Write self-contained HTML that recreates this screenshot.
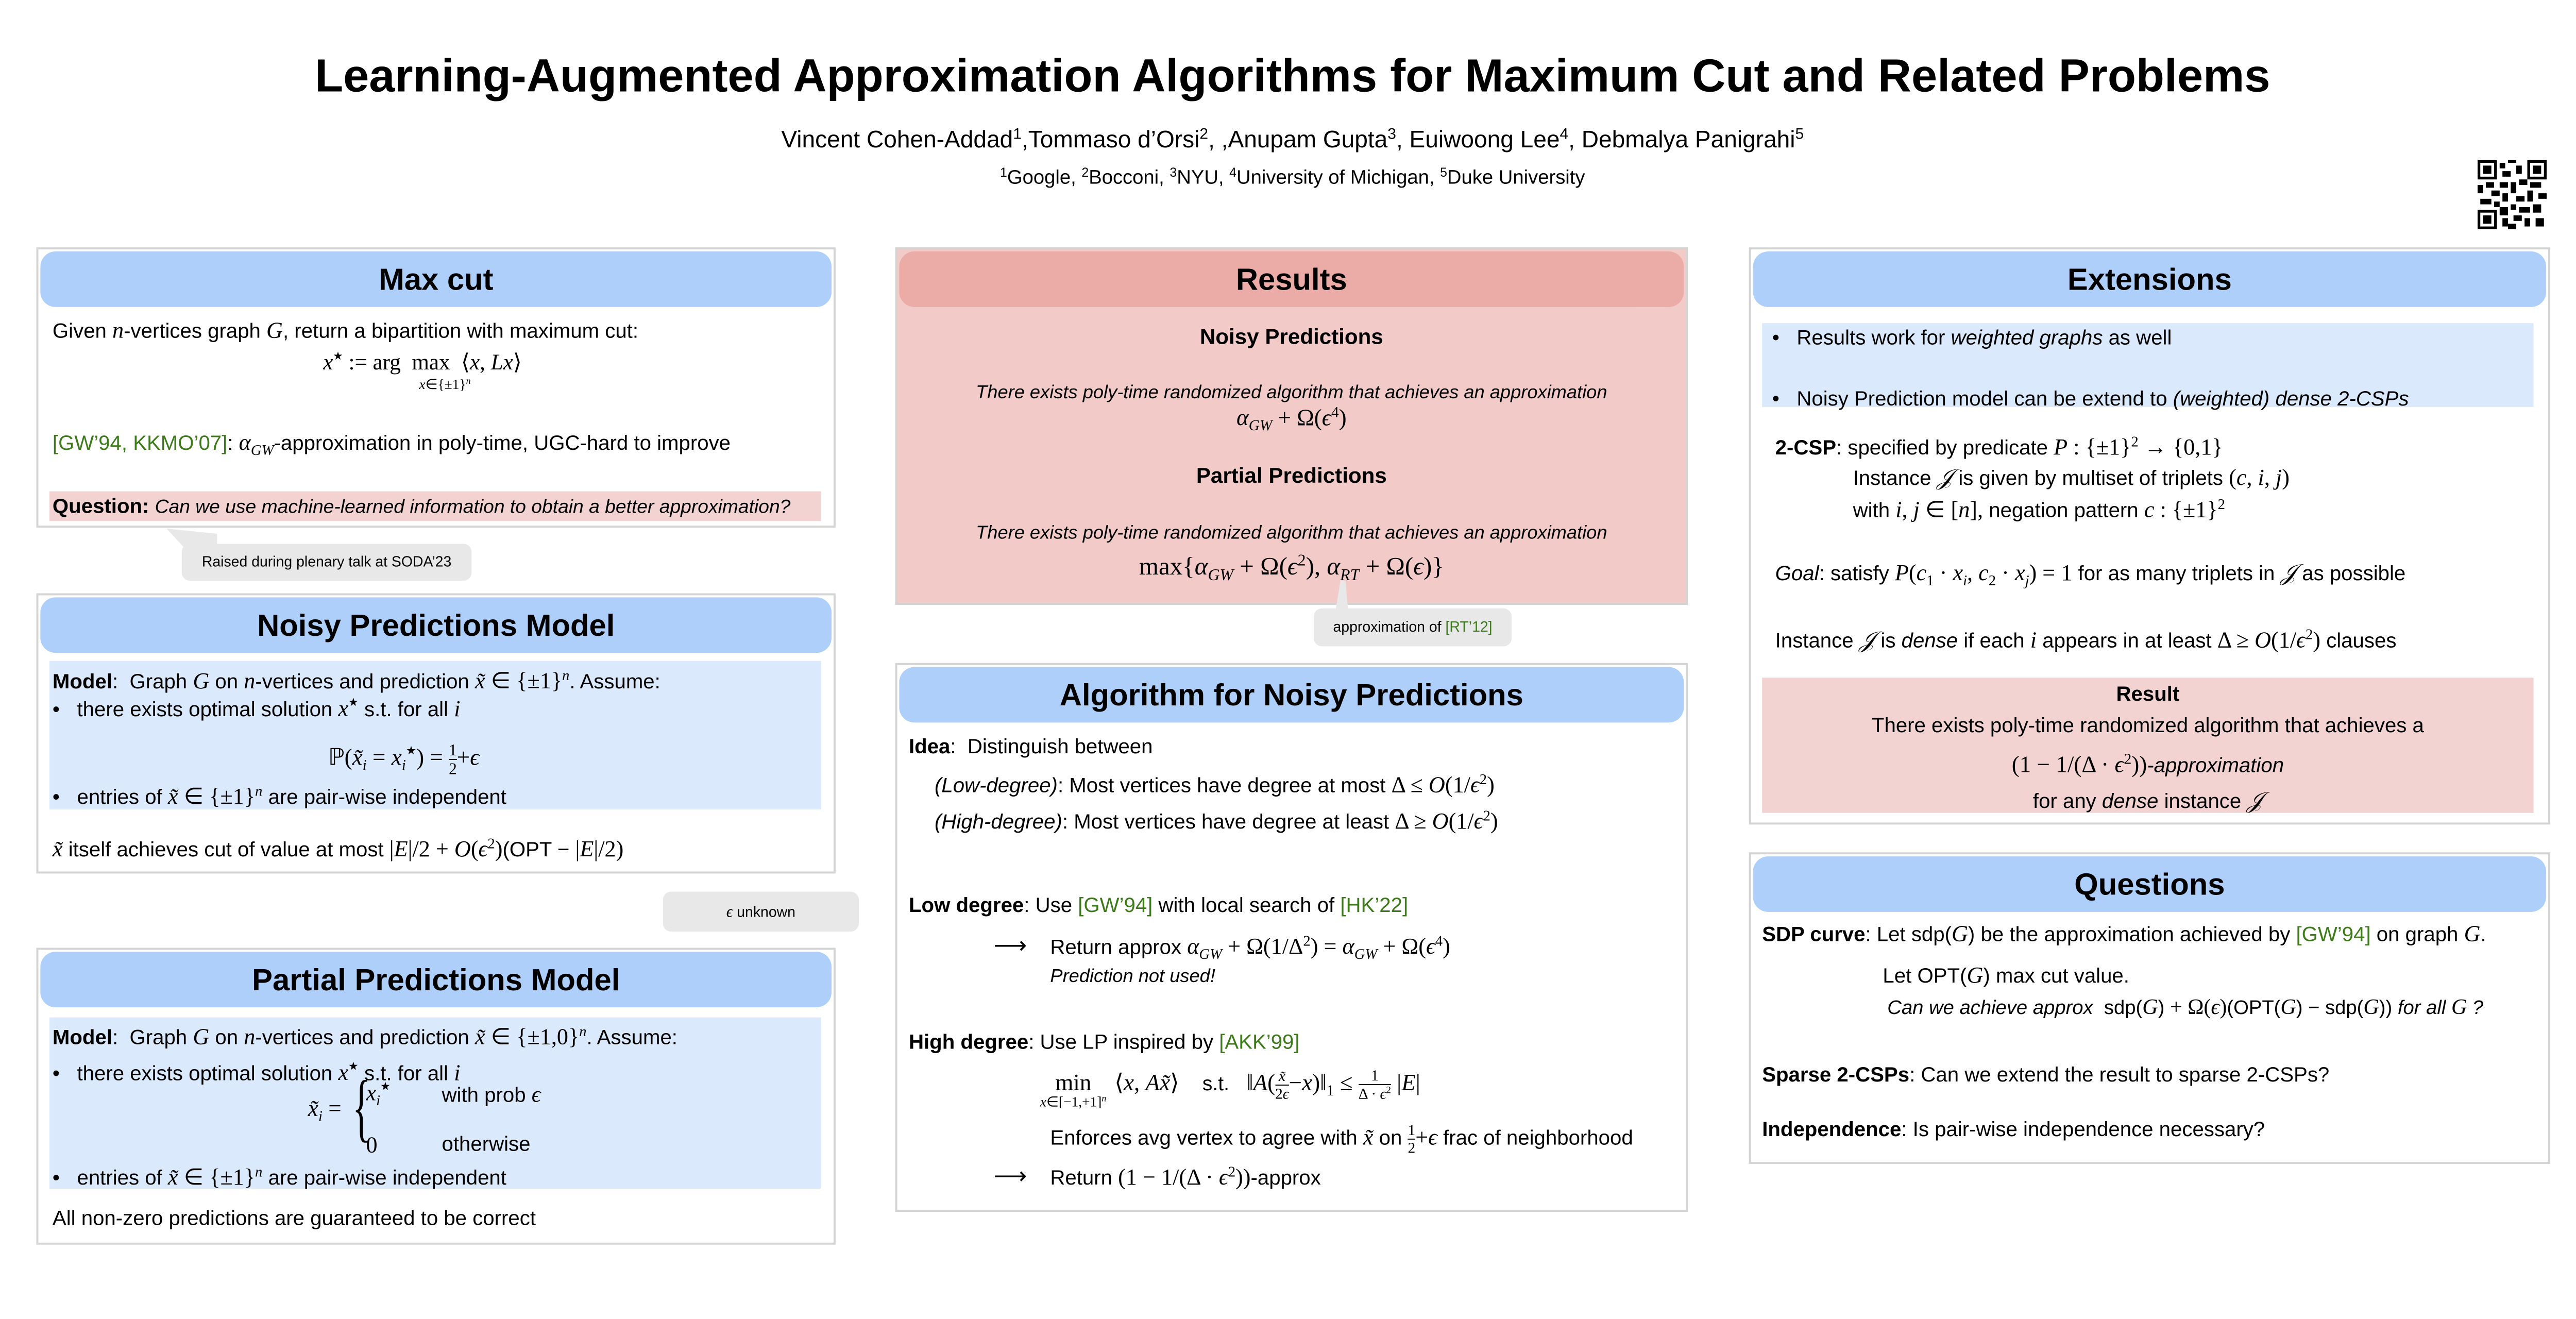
<!DOCTYPE html>
<html><head><meta charset="utf-8"><style>
body{margin:0;width:5120px;height:2560px;background:#fff;position:relative;overflow:hidden;font-family:"Liberation Sans",sans-serif;color:#000}
#w{position:absolute;left:0;top:0;width:5224px;height:2612px;transform:scale(0.98);transform-origin:0 0}
.t{position:absolute;white-space:nowrap;line-height:1;font-size:41px}
.c{text-align:center}
.m{font-family:"Liberation Serif",serif;font-style:italic}
.r{font-family:"Liberation Serif",serif}
span.m,span.r{font-size:1.1em}
.it{font-style:italic;font-size:37px}
.g{color:#3d7a1a}
.st{font-size:0.5em;vertical-align:0.9em;font-style:normal}
.panel{position:absolute;border:4px solid #d4d4d4;box-sizing:border-box;background:#fff}
.hdr{position:absolute;left:4px;right:4px;top:4px;height:110px;background:#aecffa;border-radius:30px;font-weight:bold;font-size:61px;text-align:center;line-height:110px}
.lb{position:absolute;background:#dbe9fc}
.pk{position:absolute;background:#f2d3d2}
.call{position:absolute;background:#e8e8e8;border-radius:16px;font-size:29px;text-align:center}
b{font-weight:bold}
sub,sup{font-size:65%}
</style></head><body><div id="w">

<div class="t c" style="left:0;width:5120px;top:104px;font-size:92px;font-weight:bold">Learning-Augmented Approximation Algorithms for Maximum Cut and Related Problems</div>
<div class="t c" style="left:0;width:5120px;top:250px;font-size:47px">Vincent Cohen-Addad<sup>1</sup>,Tommaso d’Orsi<sup>2</sup>, ,Anupam Gupta<sup>3</sup>, Euiwoong Lee<sup>4</sup>, Debmalya Panigrahi<sup>5</sup></div>
<div class="t c" style="left:0;width:5120px;top:330px;font-size:39px"><sup>1</sup>Google, <sup>2</sup>Bocconi, <sup>3</sup>NYU, <sup>4</sup>University of Michigan, <sup>5</sup>Duke University</div>
<svg style="position:absolute;left:4907px;top:317px" width="137" height="137" viewBox="0 0 25 25">
<rect width="25" height="25" fill="#fff"/>
<g fill="#000">
<rect x="0" y="0" width="7" height="7"/><rect x="1" y="1" width="5" height="5" fill="#fff"/><rect x="2" y="2" width="3" height="3"/>
<rect x="18" y="0" width="7" height="7"/><rect x="19" y="1" width="5" height="5" fill="#fff"/><rect x="20" y="2" width="3" height="3"/>
<rect x="0" y="18" width="7" height="7"/><rect x="1" y="19" width="5" height="5" fill="#fff"/><rect x="2" y="20" width="3" height="3"/>
<rect x="8" y="1" width="2" height="2"/><rect x="11" y="0" width="3" height="1"/><rect x="14" y="2" width="2" height="3"/><rect x="9" y="4" width="3" height="2"/>
<rect x="8" y="8" width="3" height="2"/><rect x="12" y="8" width="2" height="4"/><rect x="15" y="7" width="3" height="2"/><rect x="19" y="8" width="4" height="2"/>
<rect x="0" y="9" width="2" height="3"/><rect x="3" y="8" width="3" height="2"/><rect x="5" y="11" width="3" height="2"/><rect x="1" y="14" width="4" height="2"/>
<rect x="9" y="12" width="2" height="3"/><rect x="14" y="13" width="3" height="2"/><rect x="18" y="11" width="2" height="4"/><rect x="22" y="12" width="3" height="2"/>
<rect x="8" y="17" width="3" height="3"/><rect x="12" y="16" width="2" height="2"/><rect x="15" y="17" width="4" height="2"/><rect x="20" y="16" width="3" height="3"/>
<rect x="9" y="21" width="2" height="3"/><rect x="13" y="20" width="3" height="2"/><rect x="17" y="21" width="2" height="3"/><rect x="21" y="21" width="3" height="3"/>
<rect x="6" y="15" width="2" height="2"/><rect x="11" y="23" width="3" height="2"/>
</g></svg>

<!-- Max cut -->
<div class="panel" style="left:72px;top:490px;width:1583px;height:555px"><div class="hdr">Max cut</div></div>
<div class="t" style="left:104px;top:632px">Given <span class="m">n</span>-vertices graph <span class="m">G</span>, return a bipartition with maximum cut:</div>
<div class="t r" style="left:640px;top:694px;font-size:44px"><i>x</i><span class="st">★</span> := arg &nbsp;max &nbsp;⟨<i>x</i>, <i>Lx</i>⟩</div>
<div class="t r" style="left:830px;top:745px;font-size:28px"><i>x</i>∈{±1}<sup><i>n</i></sup></div>
<div class="t" style="left:104px;top:854px"><span class="g">[GW’94, KKMO’07]</span>: <span class="m">α<sub>GW</sub></span>-approximation in poly-time, UGC-hard to improve</div>
<div class="pk" style="left:98px;top:973px;width:1528px;height:59px"></div>
<div class="t" style="left:104px;top:982px"><b>Question:</b> <i style="font-size:38px">Can we use machine-learned information to obtain a better approximation?</i></div>
<svg style="position:absolute;left:320px;top:1045px" width="120" height="40"><polygon points="10,2 110,12 110,40 45,40" fill="#e8e8e8"/></svg>
<div class="call" style="left:360px;top:1077px;width:574px;height:73px;line-height:73px">Raised during plenary talk at SODA’23</div>

<!-- Noisy -->
<div class="panel" style="left:72px;top:1175px;width:1583px;height:555px"><div class="hdr">Noisy Predictions Model</div></div>
<div class="lb" style="left:98px;top:1309px;width:1528px;height:294px"></div>
<div class="t" style="left:104px;top:1324px"><b>Model</b>: &nbsp;Graph <span class="m">G</span> on <span class="m">n</span>-vertices and prediction <span class="m">x̃</span> <span class="r">∈ {±1}<sup><i>n</i></sup></span>. Assume:</div>
<div class="t" style="left:104px;top:1380px">•&nbsp;&nbsp; there exists optimal solution <span class="m">x<span class="st">★</span></span> s.t. for all <span class="m">i</span></div>
<div class="t r" style="left:650px;top:1468px;font-size:46px">ℙ(<i>x̃<sub>i</sub></i> = <i>x</i><sub><i>i</i></sub><span class="st">★</span>) = <span style="display:inline-block;vertical-align:middle;text-align:center;font-size:32px;line-height:1.1"><span style="display:block;border-bottom:2px solid #000">1</span>2</span>+<i>ϵ</i></div>
<div class="t" style="left:104px;top:1553px">•&nbsp;&nbsp; entries of <span class="m">x̃</span> <span class="r">∈ {±1}<sup><i>n</i></sup></span> are pair-wise independent</div>
<div class="t" style="left:104px;top:1657px"><span class="m">x̃</span> itself achieves cut of value at most <span class="r">|<i>E</i>|/2 + <i>O</i>(<i>ϵ</i><sup>2</sup>)</span>(OPT − <span class="r">|<i>E</i>|/2)</span></div>
<div class="call" style="left:1313px;top:1766px;width:388px;height:79px;line-height:79px"><span class="m">ϵ</span> unknown</div>

<!-- Partial -->
<div class="panel" style="left:72px;top:1877px;width:1583px;height:588px"><div class="hdr">Partial Predictions Model</div></div>
<div class="lb" style="left:98px;top:2015px;width:1528px;height:339px"></div>
<div class="t" style="left:104px;top:2029px"><b>Model</b>: &nbsp;Graph <span class="m">G</span> on <span class="m">n</span>-vertices and prediction <span class="m">x̃</span> <span class="r">∈ {±1,0}<sup><i>n</i></sup></span>. Assume:</div>
<div class="t" style="left:104px;top:2101px">•&nbsp;&nbsp; there exists optimal solution <span class="m">x<span class="st">★</span></span> s.t. for all <span class="m">i</span></div>
<div class="t r" style="left:610px;top:2172px;font-size:46px"><i>x̃<sub>i</sub></i> =</div>
<div class="t r" style="left:680px;top:2118px;font-size:150px;font-weight:100;transform:scaleX(0.5)">{</div>
<div class="t" style="left:725px;top:2141px"><span class="m">x<sub>i</sub><span class="st">★</span></span></div>
<div class="t" style="left:875px;top:2145px">with prob <span class="m">ϵ</span></div>
<div class="t" style="left:725px;top:2245px"><span class="r">0</span></div>
<div class="t" style="left:875px;top:2245px">otherwise</div>
<div class="t" style="left:104px;top:2307px">•&nbsp;&nbsp; entries of <span class="m">x̃</span> <span class="r">∈ {±1}<sup><i>n</i></sup></span> are pair-wise independent</div>
<div class="t" style="left:104px;top:2392px">All non-zero predictions are guaranteed to be correct</div>

<!-- Results -->
<div class="panel" style="left:1773px;top:490px;width:1570px;height:708px;background:#f2cbc9"><div class="hdr" style="background:#ebaba7">Results</div></div>
<div class="t c" style="left:1773px;width:1570px;top:646px;font-size:43px;font-weight:bold">Noisy Predictions</div>
<div class="t c it" style="left:1773px;width:1570px;top:758px">There exists poly-time randomized algorithm that achieves an approximation</div>
<div class="t c r" style="left:1773px;width:1570px;top:802px;font-size:46px"><i>α<sub>GW</sub></i> + Ω(<i>ϵ</i><sup>4</sup>)</div>
<div class="t c" style="left:1773px;width:1570px;top:921px;font-size:43px;font-weight:bold">Partial Predictions</div>
<div class="t c it" style="left:1773px;width:1570px;top:1036px">There exists poly-time randomized algorithm that achieves an approximation</div>
<div class="t c r" style="left:1773px;width:1570px;top:1094px;font-size:50px">max{<i>α<sub>GW</sub></i> + Ω(<i>ϵ</i><sup>2</sup>), <i>α<sub>RT</sub></i> + Ω(<i>ϵ</i>)}</div>
<svg style="position:absolute;left:2630px;top:1150px" width="60" height="60"><polygon points="25,0 35,0 40,60 15,60" fill="#e8e8e8"/></svg>
<div class="call" style="left:2602px;top:1205px;width:392px;height:75px;line-height:75px">approximation of <span class="g">[RT’12]</span></div>

<!-- Algorithm -->
<div class="panel" style="left:1773px;top:1313px;width:1570px;height:1087px"><div class="hdr">Algorithm for Noisy Predictions</div></div>
<div class="t" style="left:1800px;top:1458px"><b>Idea</b>: &nbsp;Distinguish between</div>
<div class="t" style="left:1851px;top:1530px"><i>(Low-degree)</i>: Most vertices have degree at most <span class="r">Δ ≤ <i>O</i>(1/<i>ϵ</i><sup>2</sup>)</span></div>
<div class="t" style="left:1851px;top:1602px"><i>(High-degree)</i>: Most vertices have degree at least <span class="r">Δ ≥ <i>O</i>(1/<i>ϵ</i><sup>2</sup>)</span></div>
<div class="t" style="left:1800px;top:1772px"><b>Low degree</b>: Use <span class="g">[GW’94]</span> with local search of <span class="g">[HK’22]</span></div>
<div class="t" style="left:1968px;top:1848px;font-size:46px">⟶</div>
<div class="t" style="left:2080px;top:1850px">Return approx <span class="r"><i>α<sub>GW</sub></i> + Ω(1/Δ<sup>2</sup>) = <i>α<sub>GW</sub></i> + Ω(<i>ϵ</i><sup>4</sup>)</span></div>
<div class="t it" style="left:2080px;top:1914px">Prediction not used!</div>
<div class="t" style="left:1800px;top:2043px"><b>High degree</b>: Use LP inspired by <span class="g">[AKK’99]</span></div>
<div class="t r" style="left:2090px;top:2114px;font-size:46px">min &nbsp;&nbsp;&nbsp;⟨<i>x</i>, <i>Ax̃</i>⟩ &nbsp;&nbsp;&nbsp;<span style="font-family:'Liberation Sans';font-size:40px">s.t.</span> &nbsp;&nbsp;‖<i>A</i>(<span style="display:inline-block;vertical-align:middle;text-align:center;font-size:30px;line-height:1.1"><span style="display:block;border-bottom:2px solid #000"><i>x̃</i></span>2<i>ϵ</i></span>−<i>x</i>)‖<sub>1</sub> ≤ <span style="display:inline-block;vertical-align:middle;text-align:center;font-size:30px;line-height:1.1"><span style="display:block;border-bottom:2px solid #000">1</span>Δ · <i>ϵ</i><sup>2</sup></span> |<i>E</i>|</div>
<div class="t r" style="left:2060px;top:2166px;font-size:28px"><i>x</i>∈[−1,+1]<sup><i>n</i></sup></div>
<div class="t" style="left:2080px;top:2222px">Enforces avg vertex to agree with <span class="m">x̃</span> on <span style="font-family:'Liberation Serif';display:inline-block;vertical-align:middle;text-align:center;font-size:30px;line-height:1.1"><span style="display:block;border-bottom:2px solid #000">1</span>2</span><span class="r">+<i>ϵ</i></span> frac of neighborhood</div>
<div class="t" style="left:1968px;top:2305px;font-size:46px">⟶</div>
<div class="t" style="left:2080px;top:2307px">Return <span class="r">(1 − 1/(Δ · <i>ϵ</i><sup>2</sup>))</span>-approx</div>

<!-- Extensions -->
<div class="panel" style="left:3464px;top:490px;width:1587px;height:1143px"><div class="hdr">Extensions</div></div>
<div class="lb" style="left:3490px;top:640px;width:1528px;height:166px"></div>
<div class="t" style="left:3510px;top:648px">•&nbsp;&nbsp; Results work for <i>weighted graphs</i> as well</div>
<div class="t" style="left:3510px;top:769px">•&nbsp;&nbsp; Noisy Prediction model can be extend to <i>(weighted) dense 2-CSPs</i></div>
<div class="t" style="left:3516px;top:861px"><b>2-CSP</b>: specified by predicate <span class="r"><i>P</i> : {±1}<sup>2</sup> → {0,1}</span></div>
<div class="t" style="left:3670px;top:923px">Instance <span class="m">𝒥</span> is given by multiset of triplets <span class="r">(<i>c</i>, <i>i</i>, <i>j</i>)</span></div>
<div class="t" style="left:3670px;top:985px">with <span class="r"><i>i</i>, <i>j</i> ∈ [<i>n</i>],</span> negation pattern <span class="r"><i>c</i> : {±1}<sup>2</sup></span></div>
<div class="t" style="left:3516px;top:1112px"><i>Goal</i>: satisfy <span class="r"><i>P</i>(<i>c</i><sub>1</sub> · <i>x<sub>i</sub></i>, <i>c</i><sub>2</sub> · <i>x<sub>j</sub></i>) = 1</span> for as many triplets in <span class="m">𝒥</span> as possible</div>
<div class="t" style="left:3516px;top:1243px">Instance <span class="m">𝒥</span> is <i>dense</i> if each <span class="m">i</span> appears in at least <span class="r">Δ ≥ <i>O</i>(1/<i>ϵ</i><sup>2</sup>)</span> clauses</div>
<div class="pk" style="left:3490px;top:1342px;width:1528px;height:268px"></div>
<div class="t c" style="left:3490px;width:1528px;top:1354px;font-weight:bold">Result</div>
<div class="t c" style="left:3490px;width:1528px;top:1416px">There exists poly-time randomized algorithm that achieves a</div>
<div class="t c" style="left:3490px;width:1528px;top:1489px"><span class="r" style="font-size:46px">(1 − 1/(Δ · <i>ϵ</i><sup>2</sup>))</span><i>-approximation</i></div>
<div class="t c" style="left:3490px;width:1528px;top:1563px">for any <i>dense</i> instance <span class="m">𝒥</span></div>

<!-- Questions -->
<div class="panel" style="left:3464px;top:1688px;width:1587px;height:617px"><div class="hdr">Questions</div></div>
<div class="t" style="left:3490px;top:1827px"><b>SDP curve</b>: Let sdp(<span class="m">G</span>) be the approximation achieved by <span class="g">[GW’94]</span> on graph <span class="m">G</span>.</div>
<div class="t" style="left:3729px;top:1909px">Let OPT(<span class="m">G</span>) max cut value.</div>
<div class="t" style="left:3738px;top:1974px;font-size:39px"><i>Can we achieve approx</i> &nbsp;sdp(<span class="m">G</span>) <span class="r">+ Ω(<i>ϵ</i>)</span>(OPT(<span class="m">G</span>) − sdp(<span class="m">G</span>)) <i>for all <span class="m">G</span> ?</i></div>
<div class="t" style="left:3490px;top:2108px"><b>Sparse 2-CSPs</b>: Can we extend the result to sparse 2-CSPs?</div>
<div class="t" style="left:3490px;top:2216px"><b>Independence</b>: Is pair-wise independence necessary?</div>

</div></body></html>
